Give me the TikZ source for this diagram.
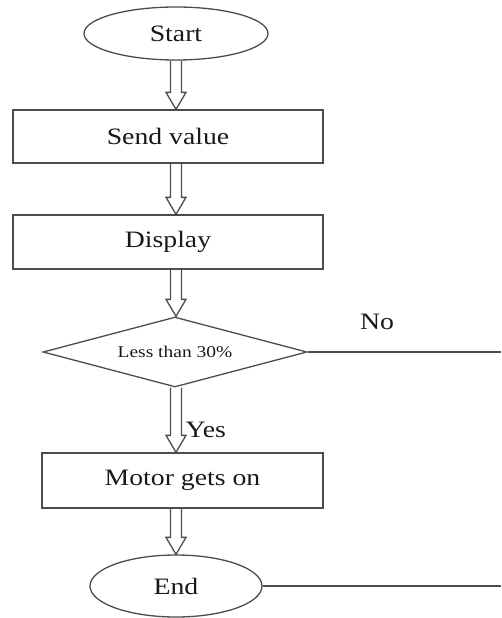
\documentclass[tikz,border=0pt]{standalone}
\usepackage{fontspec}
\setmainfont{Liberation Serif}[FakeStretch=1.18]
\usepackage{tikz}
\usetikzlibrary{shapes.geometric, positioning, calc}

\begin{document}
\begin{tikzpicture}[x=1pt, y=1pt, on grid, line width=1.3pt, draw=black!70, text=black!90,
        font=\fontsize{23.5}{27}\selectfont,
        term/.style={ellipse, draw=black!70, inner sep=0pt},
        proc/.style={rectangle, draw=black!70, inner sep=0pt},
        test/.style={diamond, aspect=3.77, draw=black!70, inner sep=0pt, font=\fontsize{16.5}{19}\selectfont},
        dblarrow/.style={line width=1pt, to path={
          let \p1=(\tikztostart), \p2=(\tikztotarget) in
          (\x1-5.5pt,\y1) -- (\x1-5.5pt,\y2+17pt) -- (\x1-10pt,\y2+17pt) -- (\x1,\y2)
          -- (\x1+10pt,\y2+17pt) -- (\x1+5.5pt,\y2+17pt) -- (\x1+5.5pt,\y1)}}]
        \useasboundingbox (0,0) rectangle (501,-618);
        \node[term, minimum width=184pt, minimum height=53pt] (start) at (176,-33.5) {Start};
        \node[proc, minimum width=310pt, minimum height=53pt] (send)  [below=103pt of start, xshift=-8pt] {Send value};
        \node[proc, minimum width=310pt, minimum height=54pt] (disp)  [below=105.5pt of send] {Display};
        \node[test, minimum width=264pt, minimum height=70pt] (dec)   [below=110pt of disp, xshift=7pt] {Less than 30\%};
        \node[proc, minimum width=281pt, minimum height=55pt] (motor) [below=128.5pt of dec, xshift=7.5pt] {Motor gets on};
        \node[term, minimum width=172pt, minimum height=62pt] (end)   [below=105.5pt of motor, xshift=-6.5pt] {End};
        \node (no)  at (377,-322) {No};
        \node[anchor=west, inner sep=1pt] (yes) at (184,-430) {Yes};
        \coordinate (noout)  at (501,-352);
        \coordinate (endout) at (501,-586);
        % hollow arrows down the column
        \draw (start.south)          to[dblarrow] (start.south |- send.north);
        \draw (send.south -| start)  to[dblarrow] (disp.north -| start);
        \draw (disp.south -| start)  to[dblarrow] (dec.north -| start);
        \draw (dec.south -| start)   to[dblarrow] (motor.north -| start);
        \draw (motor.south -| start) to[dblarrow] (end.north -| start);
        % branches leaving to the right
        \draw (dec.east) -- (noout);
        \draw (end.east) -- (endout);
      \end{tikzpicture}
\end{document}
